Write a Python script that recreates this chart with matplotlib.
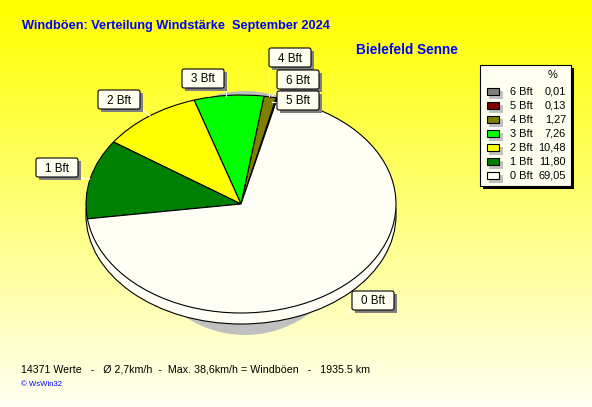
import matplotlib
matplotlib.use('Agg')
import matplotlib.pyplot as plt
from matplotlib.patches import Ellipse, FancyBboxPatch, Rectangle
import numpy as np

plt.rcParams['font.family'] = ['Liberation Sans', 'DejaVu Sans']

# data, in legend order
classes = ['6 Bft', '5 Bft', '4 Bft', '3 Bft', '2 Bft', '1 Bft', '0 Bft']
percent = [0.01, 0.13, 1.27, 7.26, 10.48, 11.80, 69.05]
percent_text = ['0,01', '0,13', '1,27', '7,26', '10,48', '11,80', '69,05']
colors = ['#808080', '#800000', '#808000', '#00ff00', '#ffff00', '#008000', '#fffff5']

W, H = 592, 407
IVORY = '#fffff0'
cx, cy, rx, ry = 241, 204, 155, 109
depth = 11

fig = plt.figure(figsize=(W / 100, H / 100), dpi=100)

# background and everything placed in pixels
bg = fig.add_axes([0, 0, 1, 1])
bg.set_xlim(0, W)
bg.set_ylim(H, 0)
bg.axis('off')
grad = np.ones((H, 1, 3))
grad[:, 0, 2] = np.clip(np.linspace(-0.02, 0.95, H), 0, 1)
bg.imshow(grad, extent=(0, W, H, 0), aspect='auto', zorder=0)
bg.add_patch(Ellipse((245, 213), 228, 244, fc='#c0c0c0', ec='none', zorder=1))

# pie axes, one data unit is rx pixels across and ry pixels down
ax = fig.add_axes([0, 0, 1, 1])
ax.patch.set_alpha(0)
ax.pie([1], colors=['#fffff5'], radius=1, center=(0, -depth / ry),
       wedgeprops={'edgecolor': 'black', 'linewidth': 0.8})
ax.pie(percent, colors=colors, startangle=76.4, counterclock=True,
       wedgeprops={'edgecolor': 'black', 'linewidth': 0.8})
ax.set_aspect('auto')
ax.set_xlim(-cx / rx, (W - cx) / rx)
ax.set_ylim(-(H - cy) / ry, cy / ry)
ax.axis('off')

# top layer for text and boxes
top = fig.add_axes([0, 0, 1, 1])
top.set_xlim(0, W)
top.set_ylim(H, 0)
top.axis('off')
top.patch.set_alpha(0)

top.text(22, 26, 'Windböen: Verteilung Windstärke  September 2024', color='#0000ff',
         fontsize=9.2, fontweight='bold', va='center')
top.text(356, 50, 'Bielefeld Senne', color='#0000ff', fontsize=9.85, fontweight='bold', va='center')
top.text(21, 369.5, '14371 Werte   -   Ø 2,7km/h  -  Max. 38,6km/h = Windböen   -   1935.5 km',
         color='black', fontsize=7.7, va='center')
top.text(21, 385, '© WsWin32', color='#0000ff', fontsize=5.6, va='center')

# leader lines and label boxes
box_pos = {'4 Bft': (269, 48), '6 Bft': (277, 70), '5 Bft': (277, 91), '3 Bft': (182, 69),
           '2 Bft': (98, 90), '1 Bft': (36, 158), '0 Bft': (352, 291)}
leaders = [((269, 67), (269, 96)), ((277, 90), (272, 96)), ((277, 102), (272, 102)),
           ((226, 91), (226, 96)), ((140, 108), (150, 116)), ((79, 178), (90, 179)),
           ((352, 310), (345, 314))]
for a, b in leaders:
    top.plot([a[0], b[0]], [a[1], b[1]], color='white', lw=0.8, zorder=2)
for name in classes:
    x, y = box_pos[name]
    top.add_patch(Rectangle((x + 3, y + 3), 42, 19, fc='#808080', ec='none', zorder=3))
    top.add_patch(FancyBboxPatch((x + 1, y + 1), 40, 17, boxstyle='round,pad=1,rounding_size=2',
                                 fc=IVORY, ec='black', lw=0.8, zorder=4))
    top.text(x + 21, y + 10.5, name, fontsize=8.4, ha='center', va='center', zorder=5)

# legend
top.add_patch(Rectangle((483, 68), 91, 121, fc='black', ec='none', zorder=3))
top.add_patch(Rectangle((480, 65), 91, 121, fc=IVORY, ec='black', lw=0.8, zorder=4))
top.text(553, 75.5, '%', fontsize=7.9, ha='center', va='center', zorder=5)
for i, name in enumerate(classes):
    y = 91 + i * 14.0
    top.add_patch(Rectangle((489, y), 14, 8, fc='#c0c0c0', ec='none', zorder=5))
    top.add_patch(Rectangle((487, y - 3), 12, 6.5, fc=colors[i], ec='black', lw=0.8, zorder=6))
    top.text(510, y + 1, name, fontsize=7.9, va='center', zorder=6)
    top.text(566, y + 1, percent_text[i], fontsize=7.9, ha='right', va='center', zorder=6)

fig.savefig('out.png', dpi=100)
